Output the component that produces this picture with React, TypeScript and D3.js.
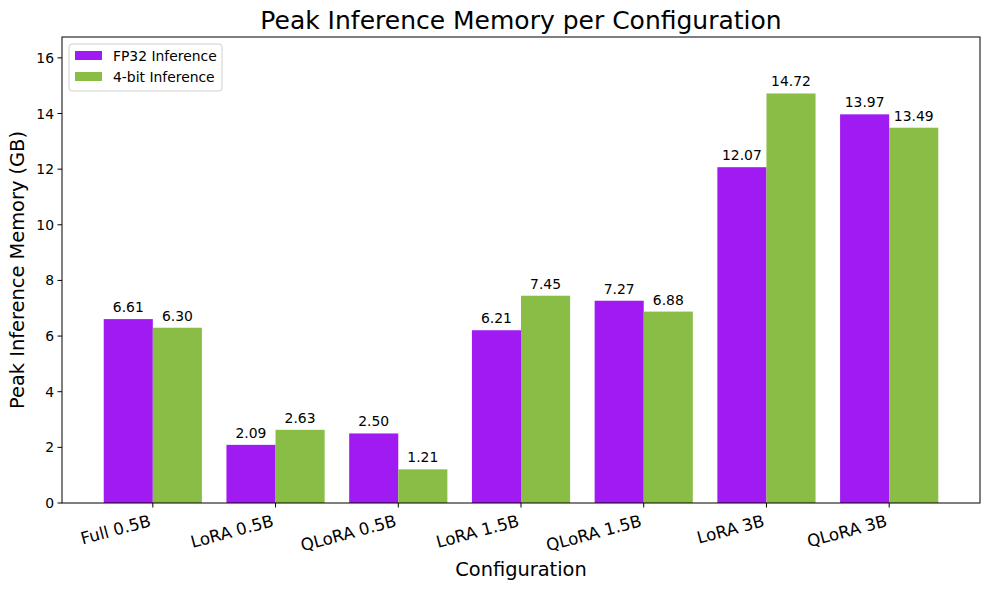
import React, { useEffect, useRef } from "react";
import * as d3 from "d3";

const configs = ["Full 0.5B", "LoRA 0.5B", "QLoRA 0.5B", "LoRA 1.5B", "QLoRA 1.5B", "LoRA 3B", "QLoRA 3B"];
const fp32Values = [6.61, 2.09, 2.5, 6.21, 7.27, 12.07, 13.97];
const int4Values = [6.3, 2.63, 1.21, 7.45, 6.88, 14.72, 13.49];
const seriesNames = ["FP32 Inference", "4-bit Inference"];
const yTicks = [0, 2, 4, 6, 8, 10, 12, 14, 16];

const size = { width: 989, height: 590, left: 62, right: 980, top: 37, bottom: 503 };
const colors = ["#a01af2", "#89bd45"];
const font = "DejaVu Sans, sans-serif";

const App = () => {
  const ref = useRef<SVGSVGElement>(null);

  useEffect(() => {
    const svg = d3.select(ref.current);
    svg.selectAll("*").remove();

    const x = d3.scaleLinear().domain([-0.74, configs.length - 1 + 0.74]).range([size.left, size.right]);
    const y = d3.scaleLinear().domain([0, 16.75]).range([size.bottom, size.top]);
    const barW = 0.4;

    const series = [fp32Values, int4Values];
    series.forEach((vals, s) => {
      const g = svg.append("g");
      vals.forEach((v, i) => {
        const x0 = i - barW + s * barW;
        g.append("rect")
          .attr("x", x(x0))
          .attr("y", y(v))
          .attr("width", x(x0 + barW) - x(x0))
          .attr("height", y(0) - y(v))
          .attr("fill", colors[s]);
        g.append("text")
          .attr("x", x(x0 + barW / 2))
          .attr("y", y(v) - 7)
          .attr("text-anchor", "middle")
          .style("font-family", font)
          .style("font-size", "13.9px")
          .text(v.toFixed(2));
      });
    });

    // frame
    svg.append("rect")
      .attr("x", size.left)
      .attr("y", size.top)
      .attr("width", size.right - size.left)
      .attr("height", size.bottom - size.top)
      .attr("fill", "none")
      .attr("stroke", "black")
      .attr("stroke-width", 1);

    // y axis
    const yAxis = svg.append("g");
    yTicks.forEach(t => {
      yAxis.append("line")
        .attr("x1", size.left - 4.5)
        .attr("x2", size.left)
        .attr("y1", y(t))
        .attr("y2", y(t))
        .attr("stroke", "black");
      yAxis.append("text")
        .attr("x", size.left - 8)
        .attr("y", y(t))
        .attr("text-anchor", "end")
        .attr("dominant-baseline", "central")
        .style("font-family", font)
        .style("font-size", "13.9px")
        .text(t);
    });

    // x axis, labels rotated 15deg, right/top aligned like matplotlib
    const xAxis = svg.append("g");
    const fs = 16.7;
    const h = fs * 1.17;
    const rad = (15 * Math.PI) / 180;
    configs.forEach((c, i) => {
      xAxis.append("line")
        .attr("x1", x(i))
        .attr("x2", x(i))
        .attr("y1", size.bottom)
        .attr("y2", size.bottom + 4.5)
        .attr("stroke", "black");
      xAxis.append("text")
        .attr("transform", `translate(${x(i)},${size.bottom + 8 + h * Math.cos(rad)}) rotate(-15)`)
        .attr("y", -fs * 0.24)
        .attr("text-anchor", "end")
        .style("font-family", font)
        .style("font-size", `${fs}px`)
        .text(c);
    });

    svg.append("text")
      .attr("x", (size.left + size.right) / 2)
      .attr("y", 29)
      .attr("text-anchor", "middle")
      .style("font-family", font)
      .style("font-size", "25px")
      .text("Peak Inference Memory per Configuration");

    svg.append("text")
      .attr("x", (size.left + size.right) / 2)
      .attr("y", 576)
      .attr("text-anchor", "middle")
      .style("font-family", font)
      .style("font-size", "19.4px")
      .text("Configuration");

    svg.append("text")
      .attr("transform", `translate(24,${(size.top + size.bottom) / 2}) rotate(-90)`)
      .attr("text-anchor", "middle")
      .style("font-family", font)
      .style("font-size", "19.4px")
      .text("Peak Inference Memory (GB)");

    // legend
    const lg = svg.append("g").attr("transform", "translate(69,44)");
    lg.append("rect")
      .attr("width", 153)
      .attr("height", 47)
      .attr("rx", 3)
      .attr("fill", "white")
      .attr("fill-opacity", 0.8)
      .attr("stroke", "#d0d0d0");
    seriesNames.forEach((n, i) => {
      lg.append("rect")
        .attr("x", 6)
        .attr("y", 7 + i * 21)
        .attr("width", 27)
        .attr("height", 9)
        .attr("fill", colors[i]);
      lg.append("text")
        .attr("x", 44)
        .attr("y", 12 + i * 21)
        .attr("dominant-baseline", "central")
        .style("font-family", font)
        .style("font-size", "13.9px")
        .text(n);
    });
  }, []);

  return <svg ref={ref} width={size.width} height={size.height} style={{ display: "block", position: "absolute", left: 0, top: 0 }} />;
};

export default App;
